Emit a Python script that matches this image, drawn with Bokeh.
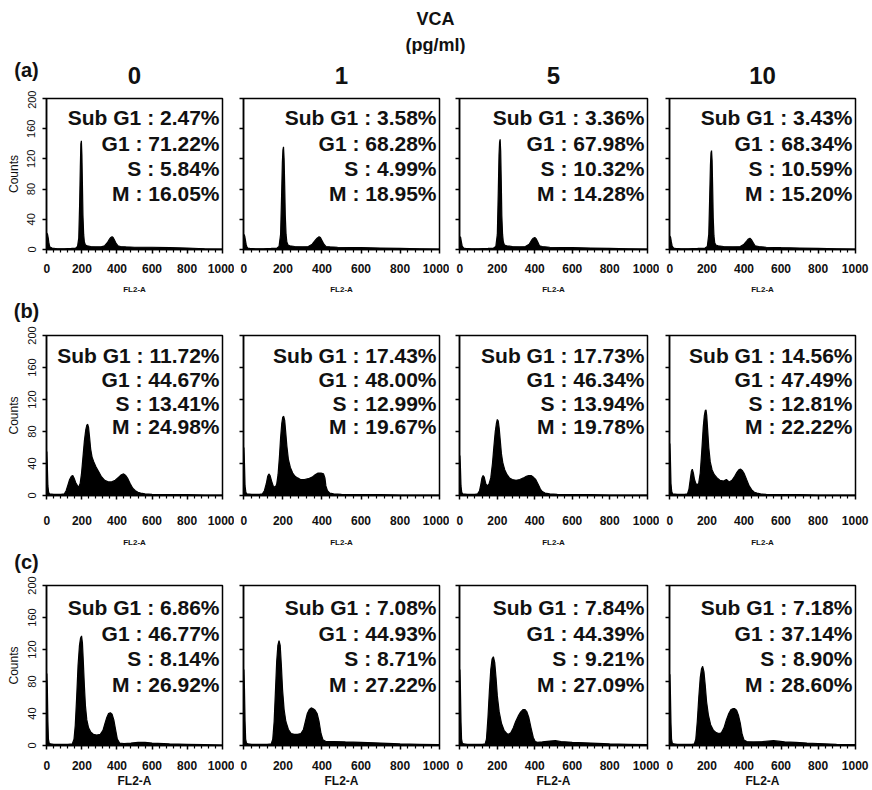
from bokeh.plotting import figure
from bokeh.layouts import column, row
from bokeh.models import Range1d, FixedTicker, Label
from bokeh.embed import file_html
from bokeh.resources import INLINE

FONT = "Liberation Sans"

# ---------------- data ----------------
col_labels = ["0", "1", "5", "10"]
row_labels = ["(a)", "(b)", "(c)"]
phases = ["Sub G1", "G1", "S", "M"]

pct_a = [["2.47%", "71.22%", "5.84%", "16.05%"],
         ["3.58%", "68.28%", "4.99%", "18.95%"],
         ["3.36%", "67.98%", "10.32%", "14.28%"],
         ["3.43%", "68.34%", "10.59%", "15.20%"]]
pct_b = [["11.72%", "44.67%", "13.41%", "24.98%"],
         ["17.43%", "48.00%", "12.99%", "19.67%"],
         ["17.73%", "46.34%", "13.94%", "19.78%"],
         ["14.56%", "47.49%", "12.81%", "22.22%"]]
pct_c = [["6.86%", "46.77%", "8.14%", "26.92%"],
         ["7.08%", "44.93%", "8.71%", "27.22%"],
         ["7.84%", "44.39%", "9.21%", "27.09%"],
         ["7.18%", "37.14%", "8.90%", "28.60%"]]

# FL2-A channel (x) and counts (y) for each histogram
a0_x = [0, 4, 8, 12, 16, 20, 30, 60, 100, 140, 165, 175, 182, 187, 191, 194, 197, 200, 203, 206, 210, 214, 220, 230, 250, 280, 310, 330, 345, 355, 365, 372, 378, 385, 395, 405, 420, 450, 500, 600, 700, 800, 900, 1000]
a0_y = [22, 20, 15, 8, 4, 3, 2, 1, 1, 1.5, 2, 4, 15, 60, 110, 140, 144, 125, 85, 45, 20, 10, 6, 5, 4, 3.5, 3.5, 5, 9, 13, 16, 17, 16, 13, 8, 5, 4, 3.5, 3, 3, 2.5, 2, 1, 0.5]
a1_x = [0, 4, 8, 12, 16, 20, 30, 60, 100, 140, 170, 180, 188, 193, 197, 200, 203, 206, 209, 212, 216, 220, 226, 235, 260, 300, 330, 350, 365, 375, 385, 392, 400, 410, 420, 440, 480, 600, 700, 800, 900, 1000]
a1_y = [20, 18, 12, 6, 3, 2, 1.5, 1, 1, 1.5, 2, 4, 20, 70, 115, 132, 136, 120, 85, 45, 20, 10, 6, 5, 4, 3.5, 4, 7, 12, 15, 17, 16, 12, 7, 4, 3.5, 3, 2.5, 2, 1.5, 1, 0.5]
a2_x = [0, 4, 8, 12, 16, 20, 30, 60, 100, 150, 180, 192, 200, 205, 209, 212, 215, 218, 221, 224, 228, 232, 238, 250, 280, 320, 350, 370, 382, 392, 400, 408, 416, 425, 440, 480, 600, 700, 800, 900, 1000]
a2_y = [17, 16, 10, 5, 3, 2, 1.5, 1, 1, 1.5, 2, 4, 20, 75, 125, 142, 146, 130, 90, 45, 20, 10, 6, 5, 4, 3.5, 4, 7, 12, 15, 16, 14, 10, 5, 4, 3, 2.5, 2, 1.5, 1, 0.5]
a3_x = [0, 4, 8, 12, 16, 20, 30, 60, 100, 150, 190, 202, 210, 215, 219, 222, 225, 228, 231, 234, 238, 242, 248, 260, 290, 340, 380, 400, 414, 424, 432, 440, 450, 460, 480, 520, 600, 700, 800, 900, 1000]
a3_y = [18, 16, 10, 5, 3, 2, 1.5, 1, 1, 1.5, 2, 4, 20, 70, 112, 128, 131, 118, 82, 42, 18, 9, 6, 5, 4, 3.5, 4, 7, 11, 14, 15, 13, 9, 5, 4, 3, 2.5, 2, 1.5, 1, 0.5]

b0_x = [0, 3, 6, 10, 15, 40, 80, 100, 110, 120, 130, 140, 148, 155, 165, 175, 183, 190, 198, 206, 214, 222, 228, 233, 238, 244, 250, 258, 268, 280, 295, 310, 330, 350, 370, 390, 410, 425, 438, 450, 462, 475, 490, 505, 520, 535, 560, 600, 700, 800, 900, 1000]
b0_y = [55, 35, 12, 4, 2, 1.5, 1.5, 2, 6, 13, 20, 24, 25, 22, 16, 12, 11, 15, 28, 48, 68, 82, 88, 89, 85, 72, 58, 48, 42, 36, 30, 24, 19, 17, 17, 19, 23, 26, 27, 25, 21, 15, 9, 6, 4, 3, 2, 1.5, 1, 1, 0.5, 0.5]
b1_x = [0, 3, 6, 10, 15, 40, 80, 95, 105, 115, 122, 128, 134, 142, 150, 160, 168, 175, 182, 188, 194, 199, 204, 209, 214, 220, 228, 238, 250, 262, 275, 290, 310, 330, 350, 365, 380, 395, 408, 415, 420, 428, 440, 460, 500, 600, 700, 800, 900, 1000]
b1_y = [60, 40, 12, 4, 2, 1.5, 1.5, 2, 6, 15, 24, 27, 25, 18, 12, 10, 14, 26, 48, 72, 90, 98, 99, 94, 80, 62, 45, 35, 28, 24, 22, 20, 20, 21, 23, 26, 28, 28, 27, 22, 12, 6, 3, 2, 1.5, 1, 1, 0.5, 0.5, 0.5]
b2_x = [0, 3, 6, 10, 15, 40, 80, 95, 105, 112, 118, 124, 130, 138, 146, 155, 165, 174, 182, 189, 195, 200, 205, 210, 216, 222, 230, 240, 252, 265, 280, 300, 320, 340, 355, 368, 380, 392, 405, 418, 430, 440, 455, 480, 520, 600, 700, 800, 900, 1000]
b2_y = [50, 35, 12, 4, 2, 1.5, 1.5, 2, 6, 14, 22, 25, 23, 15, 12, 14, 22, 40, 62, 80, 90, 95, 93, 84, 68, 52, 40, 32, 26, 22, 20, 19, 20, 22, 24, 25, 25, 23, 20, 14, 8, 5, 3, 2, 1.5, 1, 1, 0.5, 0.5, 0.5]
b3_x = [0, 3, 6, 10, 15, 40, 80, 95, 103, 110, 116, 121, 127, 133, 140, 148, 156, 164, 172, 180, 186, 191, 195, 199, 204, 210, 218, 228, 240, 255, 270, 290, 305, 320, 335, 350, 362, 372, 382, 392, 402, 414, 428, 442, 456, 470, 490, 520, 600, 700, 800, 900, 1000]
b3_y = [65, 45, 15, 5, 2, 1.5, 1.5, 2, 8, 20, 30, 33, 28, 20, 15, 13, 16, 28, 55, 85, 100, 106, 107, 100, 82, 60, 42, 32, 26, 22, 19, 18, 20, 17, 19, 24, 29, 32, 33, 31, 27, 20, 12, 7, 4, 3, 2, 1.5, 1, 1, 0.5, 0.5, 0.5]

c0_x = [0, 3, 6, 9, 13, 20, 40, 80, 120, 145, 155, 162, 170, 178, 186, 192, 198, 203, 208, 214, 220, 228, 238, 250, 265, 285, 305, 320, 332, 342, 352, 362, 372, 382, 392, 402, 415, 440, 480, 520, 560, 600, 700, 800, 900, 1000]
c0_y = [90, 70, 30, 8, 3, 2, 1.5, 1.5, 1.5, 2, 8, 25, 60, 100, 125, 134, 137, 128, 105, 75, 50, 32, 22, 17, 14, 13, 14, 19, 28, 35, 40, 41, 39, 32, 20, 8, 3, 2.5, 3, 4, 4, 3, 2, 1.5, 1, 0.5]
c1_x = [0, 3, 6, 9, 13, 20, 40, 80, 120, 140, 148, 155, 162, 168, 174, 180, 186, 192, 198, 206, 215, 228, 242, 258, 275, 292, 305, 315, 325, 335, 345, 355, 365, 375, 385, 395, 405, 420, 460, 520, 600, 700, 800, 900, 1000]
c1_y = [95, 70, 30, 8, 3, 2, 1.5, 1.5, 1.5, 2, 8, 30, 70, 105, 125, 131, 125, 100, 70, 45, 30, 20, 15, 14, 14, 15, 20, 30, 40, 45, 47, 46, 44, 40, 30, 15, 7, 5, 5, 4.5, 4, 3, 2, 1.5, 1]
c2_x = [0, 3, 6, 9, 13, 20, 40, 80, 120, 135, 142, 150, 158, 165, 172, 179, 186, 193, 200, 210, 222, 236, 250, 261, 272, 285, 298, 312, 325, 338, 348, 358, 368, 380, 392, 402, 415, 440, 480, 510, 540, 600, 700, 800, 900, 1000]
c2_y = [95, 70, 30, 8, 3, 2, 1.5, 1.5, 1.5, 2, 8, 35, 70, 95, 108, 111, 104, 85, 62, 42, 28, 19, 15, 14, 16, 22, 30, 37, 42, 45, 45, 42, 35, 22, 10, 5, 4, 4.5, 5.5, 6, 5, 4, 3, 2, 1.5, 1]
c3_x = [0, 3, 6, 9, 13, 20, 40, 80, 120, 132, 140, 148, 156, 164, 171, 177, 184, 191, 198, 208, 220, 235, 250, 265, 278, 292, 305, 318, 330, 340, 350, 360, 370, 380, 390, 400, 415, 450, 500, 560, 620, 680, 740, 800, 900, 1000]
c3_y = [89, 65, 28, 8, 3, 2, 1.5, 1.5, 1.5, 2, 8, 30, 60, 85, 96, 99, 92, 75, 55, 38, 26, 19, 16, 15, 16, 22, 32, 40, 45, 46, 46, 44, 38, 28, 14, 7, 5, 4.5, 5, 6, 4.5, 4, 3, 2.5, 1.5, 1]

x_ticks = [0, 200, 400, 600, 800, 1000]
x_minor = [40, 80, 120, 160, 240, 280, 320, 360, 440, 480, 520, 560, 640, 680, 720, 760, 840, 880, 920, 960]
y_ticks = [0, 40, 80, 120, 160, 200]

hists = [[(a0_x, a0_y), (a1_x, a1_y), (a2_x, a2_y), (a3_x, a3_y)],
         [(b0_x, b0_y), (b1_x, b1_y), (b2_x, b2_y), (b3_x, b3_y)],
         [(c0_x, c0_y), (c1_x, c1_y), (c2_x, c2_y), (c3_x, c3_y)]]
pcts = [pct_a, pct_b, pct_c]

# ---------------- layout geometry (pixels) ----------------
col_w = [234, 215, 210, 212]
col_bl = [46, 9, 10, 10]
col_br = [12, 10, 12, 16]
rows_cfg = [
    dict(h=206, bt=8, bb=46, tstand=10, lstand=9, lsize="8px", offs=[19, 45, 70, 95]),
    dict(h=226, bt=12, bb=52, tstand=16, lstand=10, lsize="8px", offs=[20, 44, 68, 91]),
    dict(h=215, bt=10, bb=41, tstand=11, lstand=1, lsize="12px", offs=[22, 48, 73, 99]),
]
W = sum(col_w)
XR = (-2, 1002)
YR = (0, 200)


def strip(h):
    s = figure(width=W, height=h, output_backend="svg", toolbar_location=None,
               x_range=Range1d(0, W), y_range=Range1d(0, h),
               x_axis_type=None, y_axis_type=None, title=None)
    s.min_border = 0
    s.outline_line_color = None
    s.xgrid.visible = False
    s.ygrid.visible = False
    return s


def txt(x, y, t, size, align="center"):
    return Label(x=x, y=y, text=t, text_align=align, text_baseline="middle",
                 text_font=FONT, text_font_style="bold", text_font_size=size,
                 text_color="#111111")


def make_panel(r, c):
    cfg = rows_cfg[r]
    p = figure(width=col_w[c], height=cfg["h"], output_backend="svg",
               toolbar_location=None, title=None,
               x_range=Range1d(*XR), y_range=Range1d(*YR))
    p.min_border_left = col_bl[c]
    p.min_border_right = col_br[c]
    p.min_border_top = cfg["bt"]
    p.min_border_bottom = cfg["bb"]
    p.xgrid.visible = False
    p.ygrid.visible = False
    p.outline_line_color = "black"
    p.outline_line_width = 1.5

    xs, ys = hists[r][c]
    p.varea(x=xs, y1=0, y2=ys, fill_color="black")
    p.line(x=xs, y=ys, line_color="black", line_width=1.2)

    xa = p.xaxis[0]
    xa.ticker = FixedTicker(ticks=x_ticks, minor_ticks=x_minor)
    xa.axis_line_width = 1.5
    xa.major_tick_line_width = 1.5
    xa.minor_tick_line_width = 1.2
    xa.major_tick_out = 4
    xa.major_tick_in = 0
    xa.minor_tick_out = 3
    xa.minor_tick_in = 0
    xa.major_label_standoff = cfg["tstand"]
    xa.major_label_text_font = FONT
    xa.major_label_text_font_style = "bold"
    xa.major_label_text_font_size = "12px"
    xa.major_label_text_color = "#111111"
    xa.axis_label = "FL2-A"
    xa.axis_label_text_font = FONT
    xa.axis_label_text_font_style = "bold"
    xa.axis_label_text_font_size = cfg["lsize"]
    xa.axis_label_text_color = "#111111"
    xa.axis_label_standoff = cfg["lstand"]

    ya = p.yaxis[0]
    ya.ticker = FixedTicker(ticks=y_ticks, minor_ticks=[])
    ya.axis_line_width = 1.5
    ya.major_tick_line_width = 1.5
    ya.major_tick_out = 4
    ya.major_tick_in = 0
    if c == 0:
        ya.major_label_orientation = "vertical"
        ya.major_label_standoff = 7
        ya.major_label_text_font = FONT
        ya.major_label_text_font_size = "11px"
        ya.major_label_text_color = "#111111"
        ya.axis_label = "Counts"
        ya.axis_label_text_font = FONT
        ya.axis_label_text_font_style = "normal"
        ya.axis_label_text_font_size = "12px"
        ya.axis_label_text_color = "#111111"
        ya.axis_label_standoff = 4
    else:
        ya.major_label_overrides = {t: "" for t in y_ticks}
        ya.major_label_standoff = 0

    for i, ph in enumerate(phases):
        p.add_layout(Label(x=XR[1], y=YR[1], x_offset=-3, y_offset=-cfg["offs"][i],
                           text=f"{ph} : {pcts[r][c][i]}", text_align="right",
                           text_baseline="middle", text_font=FONT,
                           text_font_style="bold", text_font_size="21px",
                           text_color="#111111"))
    return p


# frame centres for the column headers
centres = []
acc = 0
for c in range(4):
    fw = col_w[c] - col_bl[c] - col_br[c]
    centres.append(acc + col_bl[c] + fw / 2)
    acc += col_w[c]

hdr = strip(54)
hdr.add_layout(txt(435, 36, "VCA", "18px"))
hdr.add_layout(txt(435, 10, "(pg/ml)", "18px"))

strip_a = strip(36)
strip_a.add_layout(txt(26, 21, row_labels[0], "20px"))
for c in range(4):
    strip_a.add_layout(txt(centres[c], 15, col_labels[c], "24px"))

strip_b = strip(27)
strip_b.add_layout(txt(26, 13, row_labels[1], "20px"))

strip_c = strip(26)
strip_c.add_layout(txt(26, 14, row_labels[2], "20px"))

rows = [row(*[make_panel(r, c) for c in range(4)]) for r in range(3)]
layout = column(hdr, strip_a, rows[0], strip_b, rows[1], strip_c, rows[2])

open("out.html", "w").write(file_html(layout, INLINE))
